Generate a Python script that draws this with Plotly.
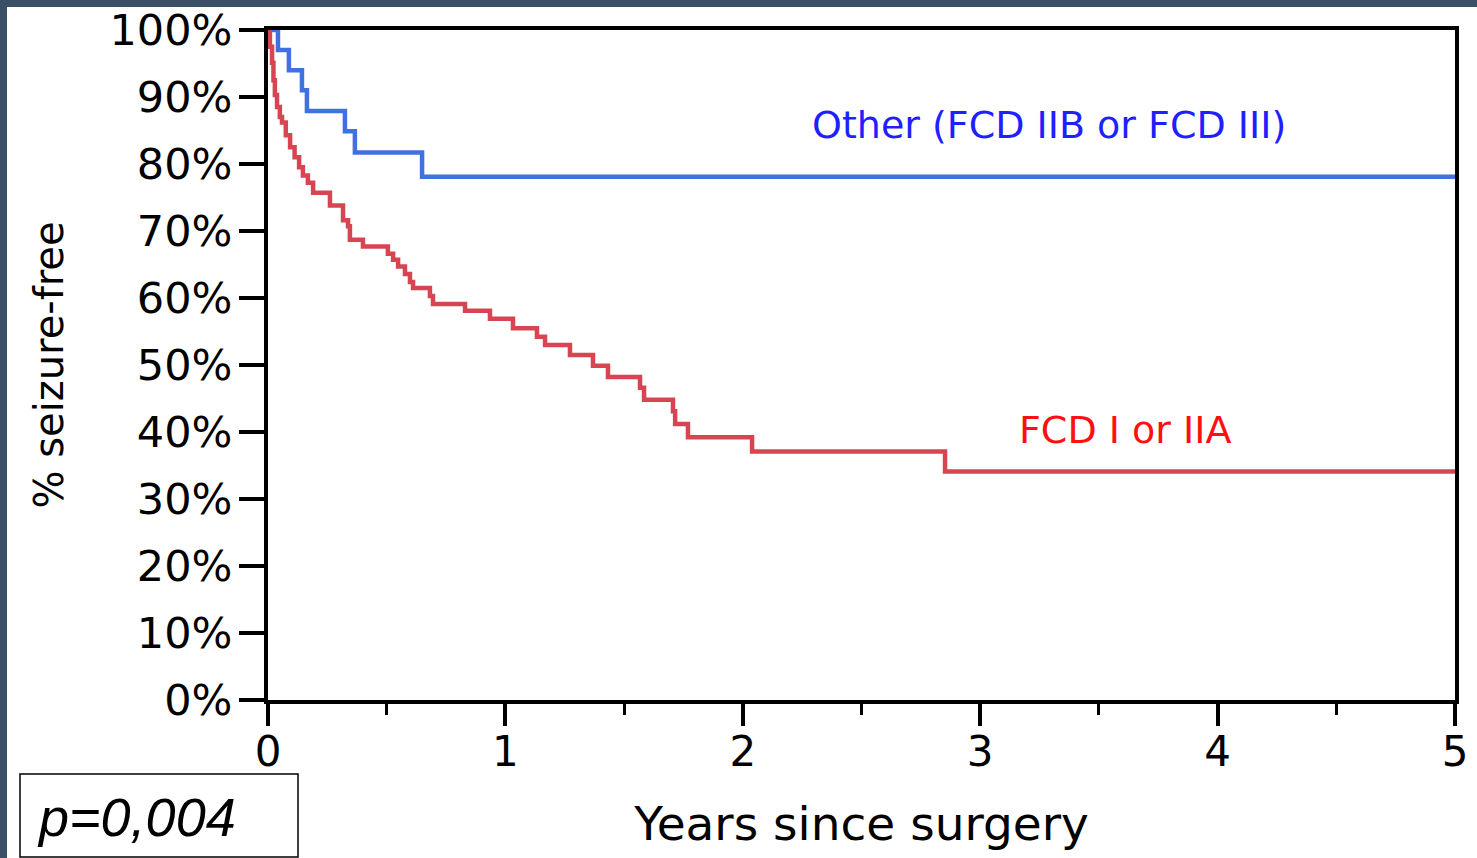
import plotly.graph_objects as go

# ---- data ----
years_other = [0, 0.042, 0.088, 0.143, 0.164, 0.324, 0.366, 0.649, 5.0]
surv_other = [100, 97.0, 94.0, 91.0, 87.9, 84.9, 81.7, 78.1, 78.1]

years_fcd = [0, 0.008, 0.017, 0.023, 0.029, 0.038, 0.050, 0.059, 0.075, 0.093, 0.112, 0.131,
             0.147, 0.168, 0.190, 0.261, 0.316, 0.337, 0.345, 0.400, 0.505, 0.527, 0.548,
             0.577, 0.598, 0.611, 0.682, 0.695, 0.830, 0.935, 1.032, 1.133, 1.167, 1.272,
             1.369, 1.432, 1.567, 1.584, 1.706, 1.715, 1.769, 2.039, 2.852, 5.0]
surv_fcd = [100, 97.5, 95.1, 92.5, 90.3, 88.5, 87.0, 86.2, 84.3, 82.5, 81.0, 79.5,
            78.3, 77.2, 75.7, 73.8, 71.6, 70.7, 68.7, 67.7, 66.6, 65.7, 64.7,
            63.6, 62.4, 61.5, 60.3, 59.1, 58.1, 56.9, 55.5, 54.2, 53.0, 51.5,
            49.9, 48.2, 46.6, 44.8, 43.1, 41.2, 39.2, 37.1, 34.1, 34.1]

x_ticks = [0, 1, 2, 3, 4, 5]
y_ticks = [0, 10, 20, 30, 40, 50, 60, 70, 80, 90, 100]
y_tick_labels = ["0%", "10%", "20%", "30%", "40%", "50%", "60%", "70%", "80%", "90%", "100%"]

label_other = "Other (FCD IIB or FCD III)"
label_fcd = "FCD I or IIA"
p_text = "p=0,004"

# ---- layout geometry ----
W, H = 1477, 858
L, R, T, B = 268, 22, 30, 158
PW, PH = W - L - R, H - T - B


def px(x):
    return (x - L) / PW


def py(y):
    return (H - B - y) / PH


FONT = "DejaVu Sans"

fig = go.Figure()
fig.add_trace(go.Scatter(x=years_other, y=surv_other, mode="lines", line_shape="hv",
                         line=dict(color="#4071e0", width=4.5), showlegend=False,
                         name=label_other))
fig.add_trace(go.Scatter(x=years_fcd, y=surv_fcd, mode="lines", line_shape="hv",
                         line=dict(color="#d84552", width=4.5), showlegend=False,
                         name=label_fcd))

fig.update_layout(
    width=W, height=H,
    margin=dict(l=L, r=R, t=T, b=B, pad=0, autoexpand=False),
    paper_bgcolor="white", plot_bgcolor="white",
    font=dict(family=FONT, color="black"),
    xaxis=dict(range=[0, 5], tickvals=x_ticks, ticks="outside", ticklen=22, tickwidth=4,
               tickcolor="black", showline=True, linewidth=4, linecolor="black", mirror=True,
               showgrid=False, zeroline=False, tickfont=dict(size=42, family=FONT),
               ticklabelstandoff=-10, automargin=False,
               minor=dict(dtick=0.5, ticks="outside", ticklen=11, tickwidth=3, tickcolor="black",
                          showgrid=False),
               title=dict(text="Years since surgery", font=dict(size=47, family=FONT), standoff=33)),
    yaxis=dict(range=[0, 100], tickvals=y_ticks, ticktext=y_tick_labels, ticks="outside",
               ticklen=25, tickwidth=4, tickcolor="black", showline=True, linewidth=4,
               linecolor="black", mirror=True, showgrid=False, zeroline=False,
               tickfont=dict(size=43, family=FONT), ticklabelstandoff=-2, automargin=False,
               title=dict(text="% seizure-free", font=dict(size=40, family=FONT), standoff=34)),
    shapes=[
        dict(type="rect", xref="paper", yref="paper", x0=px(0), x1=px(7), y0=py(H), y1=py(0),
             fillcolor="#3b4f66", line=dict(width=0), layer="above"),
        dict(type="rect", xref="paper", yref="paper", x0=px(0), x1=px(W), y0=py(7), y1=py(0),
             fillcolor="#3b4f66", line=dict(width=0), layer="above"),
        dict(type="rect", xref="paper", yref="paper", x0=px(20), x1=px(298), y0=py(857), y1=py(774),
             fillcolor="rgba(0,0,0,0)", line=dict(color="black", width=1.5), layer="above"),
    ],
    annotations=[
        dict(x=3.29, y=85.8, xref="x", yref="y", text=label_other, showarrow=False,
             xanchor="center", yanchor="middle",
             font=dict(size=38, color="#1f1fff", family=FONT)),
        dict(x=3.61, y=40.3, xref="x", yref="y", text=label_fcd, showarrow=False,
             xanchor="center", yanchor="middle",
             font=dict(size=38, color="#ff1010", family=FONT)),
        dict(x=px(136), y=py(817), xref="paper", yref="paper", text="<i>" + p_text + "</i>",
             showarrow=False, xanchor="center", yanchor="middle",
             font=dict(size=54, color="black", family="Liberation Sans")),
    ],
)

fig.write_html("out.html")
